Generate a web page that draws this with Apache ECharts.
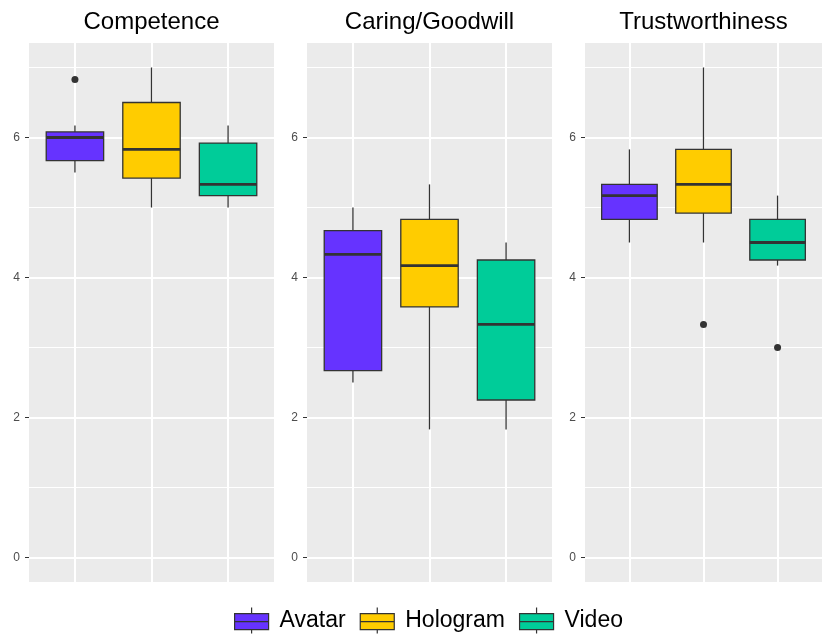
<!DOCTYPE html>
<html>
<head>
<meta charset="utf-8">
<script src="https://cdn.jsdelivr.net/npm/echarts@6/dist/echarts.min.js"></script>
<style>
html, body { margin: 0; padding: 0; background: #fff; }
#container { width: 822px; height: 637px; }
</style>
</head>
<body>
<div id="container"></div>
<script>
// 数据
var facets = ['Competence', 'Caring/Goodwill', 'Trustworthiness'];
var groups = ['Avatar', 'Hologram', 'Video'];
var groupColors = ['#6633FF', '#FFCC00', '#00CC99'];
// 每个面板: [min, Q1, median, Q3, max]
var avatarStats = [[5.5, 5.67, 6.0, 6.08, 6.17], [2.5, 2.67, 4.33, 4.67, 5.0], [4.5, 4.83, 5.17, 5.33, 5.83]];
var hologramStats = [[5.0, 5.42, 5.83, 6.5, 7.0], [1.83, 3.58, 4.17, 4.83, 5.33], [4.5, 4.92, 5.33, 5.83, 7.0]];
var videoStats = [[5.0, 5.17, 5.33, 5.92, 6.17], [1.83, 2.25, 3.33, 4.25, 4.5], [4.17, 4.25, 4.5, 4.83, 5.17]];
// 离群点: [组序号(1..3), 值]
var outliers = [[[1, 6.83]], [], [[2, 3.33], [3, 3.0]]];
var yTicks = [0, 2, 4, 6];
var yMinor = [1, 3, 5, 7];
var xBreaks = [1, 2, 3];

var statsByGroup = [avatarStats, hologramStats, videoStats];
var BOX_HALF = 0.375;
var LINE = '#333333';
var FONT = "'Liberation Sans', Arial, sans-serif";

// 画箱子
function renderBox(params, api) {
	var x = api.value(0);
	var lo = api.coord([x, api.value(1)]);
	var q1 = api.coord([x, api.value(2)]);
	var med = api.coord([x, api.value(3)]);
	var q3 = api.coord([x, api.value(4)]);
	var hi = api.coord([x, api.value(5)]);
	var left = api.coord([x - BOX_HALF, 0])[0];
	var right = api.coord([x + BOX_HALF, 0])[0];
	return {
		type: 'group',
		children: [
			{ type: 'line', shape: { x1: hi[0], y1: hi[1], x2: q3[0], y2: q3[1] }, style: { stroke: LINE, lineWidth: 1.3 } },
			{ type: 'line', shape: { x1: lo[0], y1: lo[1], x2: q1[0], y2: q1[1] }, style: { stroke: LINE, lineWidth: 1.3 } },
			{ type: 'rect', shape: { x: left, y: q3[1], width: right - left, height: q1[1] - q3[1] },
				style: { fill: api.visual('color'), stroke: LINE, lineWidth: 1.3 } },
			{ type: 'line', shape: { x1: left, y1: med[1], x2: right, y2: med[1] }, style: { stroke: LINE, lineWidth: 2.8 } }
		]
	};
}

var grids = [], xAxes = [], yAxes = [], series = [];
var panelLeft = [29, 307, 585];

for (var p = 0; p < facets.length; p++) {
	grids.push({
		left: panelLeft[p], top: 43, width: 245, height: 539,
		show: true, backgroundColor: '#EBEBEB', borderWidth: 0
	});
	xAxes.push({
		type: 'value', gridIndex: p, min: 0.4, max: 3.6, position: 'top',
		name: facets[p], nameLocation: 'middle', nameGap: 9,
		nameTextStyle: { fontSize: 24, color: '#000', fontFamily: FONT },
		axisLine: { show: false }, axisTick: { show: false }, axisLabel: { show: false },
		splitLine: { show: false }
	});
	yAxes.push({
		type: 'value', gridIndex: p, min: -0.35, max: 7.35,
		axisLine: { show: false },
		axisTick: { show: true, length: 4, customValues: yTicks, lineStyle: { color: LINE } },
		axisLabel: { customValues: yTicks, color: '#4D4D4D', fontSize: 12, margin: 9, fontFamily: FONT },
		splitLine: { show: false }
	});

	// 网格线
	var lines = [];
	for (var i = 0; i < yMinor.length; i++) lines.push({ yAxis: yMinor[i], lineStyle: { width: 1 } });
	for (var i = 0; i < yTicks.length; i++) lines.push({ yAxis: yTicks[i], lineStyle: { width: 2 } });
	for (var i = 0; i < xBreaks.length; i++) lines.push({ xAxis: xBreaks[i], lineStyle: { width: 2 } });
	series.push({
		type: 'scatter', xAxisIndex: p, yAxisIndex: p, data: [], z: 1, silent: true,
		markLine: {
			z: 1, silent: true, symbol: 'none', label: { show: false }, animation: false,
			lineStyle: { color: '#FFFFFF', type: 'solid' },
			data: lines
		}
	});

	// 箱线图
	for (var g = 0; g < groups.length; g++) {
		var s = statsByGroup[g][p];
		series.push({
			name: groups[g], type: 'custom', xAxisIndex: p, yAxisIndex: p, z: 3,
			itemStyle: { color: groupColors[g] },
			renderItem: renderBox,
			encode: { x: 0, y: [1, 2, 3, 4, 5] },
			data: [[g + 1, s[0], s[1], s[2], s[3], s[4]]]
		});
	}

	// 离群点
	series.push({
		type: 'scatter', xAxisIndex: p, yAxisIndex: p, z: 4, silent: true,
		symbolSize: 7, itemStyle: { color: LINE, opacity: 1 },
		data: outliers[p]
	});
}

var dom = document.getElementById('container');
var myChart = echarts.init(dom, null, { renderer: 'canvas' });
myChart.setOption({
	animation: false,
	backgroundColor: '#FFFFFF',
	textStyle: { fontFamily: FONT },
	legend: {
		data: groups, left: 229, top: 602,
		icon: 'path://M0,6 L34,6 L34,22 L0,22 Z M0,14 L34,14 M17,0 L17,6 M17,22 L17,26',
		itemWidth: 34, itemHeight: 26, itemGap: 14,
		itemStyle: { borderColor: LINE, borderWidth: 1.2 },
		textStyle: { fontSize: 23, color: '#000', padding: [0, 0, 0, 6], fontFamily: FONT }
	},
	grid: grids,
	xAxis: xAxes,
	yAxis: yAxes,
	series: series
});
</script>
</body>
</html>
